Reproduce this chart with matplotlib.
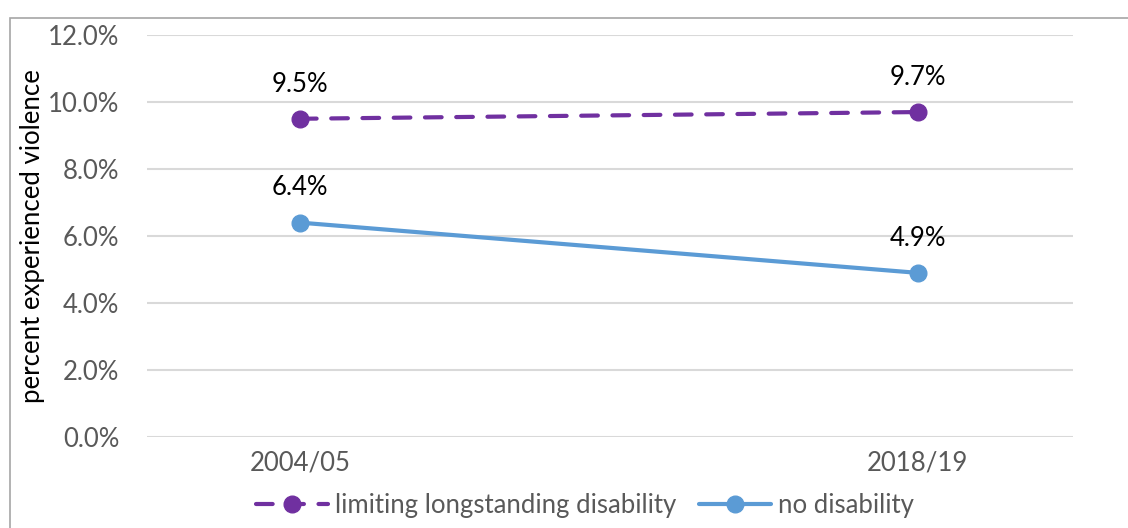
import matplotlib.pyplot as plt
from matplotlib.patches import Rectangle
from matplotlib.ticker import FuncFormatter

plt.rcParams['font.family'] = ['Lato', 'DejaVu Sans']

years = ['2004/05', '2018/19']
limiting = [9.5, 9.7]
no_disability = [6.4, 4.9]
yticks = [0, 2, 4, 6, 8, 10, 12]

purple = '#7030A0'
blue = '#5B9BD5'
fs = 18.5

fig = plt.figure(figsize=(11.28, 5.28), dpi=100)
ax = fig.add_axes([0.1303, 0.1723, 0.8209, 0.7614])

# chart frame, clipped at the right and bottom edges
fig.patches.append(Rectangle((10 / 1128, -0.05), 1.2, 1 - 18 / 528 + 0.05,
                             transform=fig.transFigure, fill=False,
                             edgecolor='#A6A6A6', linewidth=1.2))

x = range(len(years))
ax.plot(x, limiting, color=purple, linewidth=3, dashes=(4, 3.5),
        dash_capstyle='round', marker='o', markersize=12,
        label='limiting longstanding disability')
ax.plot(x, no_disability, color=blue, linewidth=3, solid_capstyle='round',
        marker='o', markersize=12, label='no disability')

for series in (limiting, no_disability):
    for xi, v in zip(x, series):
        ax.annotate(f'{v:.1f}%', (xi, v), xytext=(0, 16), textcoords='offset points',
                    ha='center', va='bottom', fontsize=fs, color='black')

ax.set_xlim(-0.2476, 1.251)
ax.set_ylim(0, 12)
ax.set_yticks(yticks)
ax.yaxis.set_major_formatter(FuncFormatter(lambda v, p: f'{v:.1f}%'))
ax.set_xticks(list(x))
ax.set_xticklabels(years)
ax.tick_params(axis='both', length=0, labelsize=fs, labelcolor='#595959')
ax.tick_params(axis='y', pad=20)
ax.tick_params(axis='x', pad=10)
ax.grid(axis='y', color='#D9D9D9', linewidth=1.5)
ax.set_axisbelow(True)
for s in ax.spines.values():
    s.set_visible(False)

ax.set_ylabel('percent experienced violence', fontsize=fs, color='black', labelpad=2)

fig.legend(loc='center', bbox_to_anchor=(0.5186, 1 - 505 / 528), ncol=2,
           frameon=False, fontsize=fs, labelcolor='#595959',
           handlelength=2.8, columnspacing=0.9, handletextpad=0.25)

fig.savefig('out.png', dpi=100)
